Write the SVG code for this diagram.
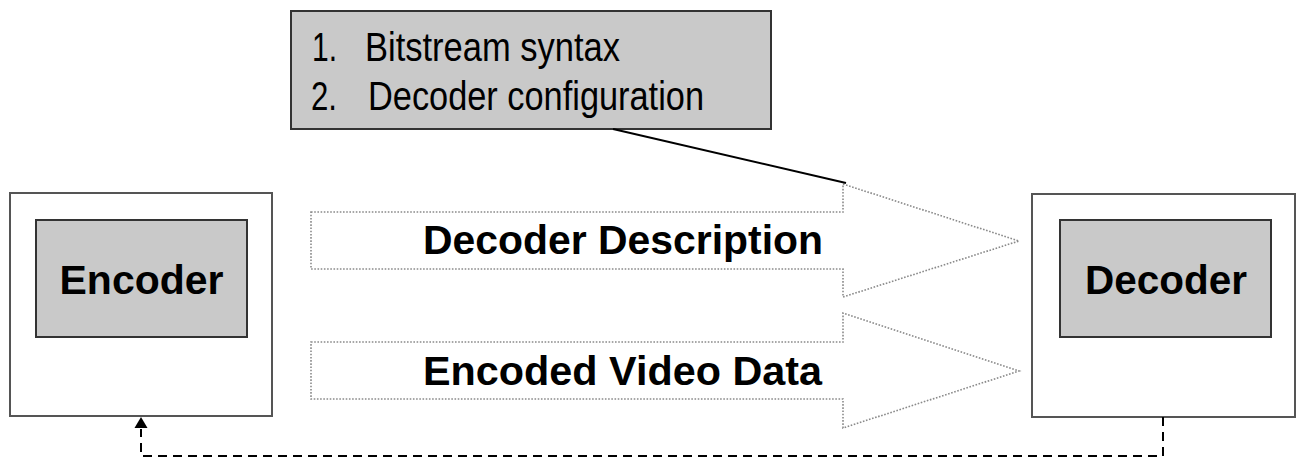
<svg xmlns="http://www.w3.org/2000/svg" width="1301" height="459" viewBox="0 0 1301 459">
  <defs>
    <style>
      .outer { fill: #ffffff; stroke: #555555; stroke-width: 2; }
      .inner { fill: #c9c9c9; stroke: #333333; stroke-width: 2; }
      .note { fill: #c9c9c9; stroke: #333333; stroke-width: 2; }
      .lbl { font-family: "Liberation Sans", Arial, sans-serif; font-weight: bold; font-size: 40px; fill: #000000; }
      .list { font-family: "Liberation Sans", Arial, sans-serif; font-size: 40px; fill: #000000; }
      .barrow { fill: #ffffff; stroke: #8a8a8a; stroke-width: 1.6; stroke-dasharray: 1.6 1.6; }
      .dash { fill: none; stroke: #000000; stroke-width: 2; stroke-dasharray: 9 6; }
    </style>
    <marker id="ah" markerWidth="14" markerHeight="12" refX="13" refY="6" orient="auto" markerUnits="userSpaceOnUse">
      <path d="M0,0 L13,6 L0,12 Z" fill="#000000"/>
    </marker>
  </defs>

  <g id="encoder">
    <rect class="outer" x="10" y="193" width="262" height="223"/>
    <rect class="inner" x="36" y="220" width="211" height="117"/>
    <text class="lbl" x="141.5" y="294" text-anchor="middle" textLength="164" lengthAdjust="spacingAndGlyphs">Encoder</text>
  </g>

  <g id="decoder">
    <rect class="outer" x="1032" y="194" width="263" height="223"/>
    <rect class="inner" x="1060" y="220" width="211" height="117"/>
    <text class="lbl" x="1166" y="294" text-anchor="middle" textLength="162" lengthAdjust="spacingAndGlyphs">Decoder</text>
  </g>

  <g id="note">
    <rect class="note" x="291" y="11" width="480" height="118"/>
    <text class="list" x="312" y="61" textLength="25" lengthAdjust="spacingAndGlyphs">1.</text>
    <text class="list" x="365" y="61" textLength="255" lengthAdjust="spacingAndGlyphs">Bitstream syntax</text>
    <text class="list" x="311" y="110" textLength="26" lengthAdjust="spacingAndGlyphs">2.</text>
    <text class="list" x="368" y="110" textLength="336" lengthAdjust="spacingAndGlyphs">Decoder configuration</text>
  </g>

  <g id="decoder-description">
    <path class="barrow" d="M311,212 H843 V184 L1019,241 L843,297 V269 H311 Z"/>
    <text class="lbl" x="423" y="254" textLength="400" lengthAdjust="spacingAndGlyphs">Decoder Description</text>
  </g>

  <g id="encoded-video-data">
    <path class="barrow" d="M311,342 H843 V313 L1019,371 L843,428 V399 H311 Z"/>
    <text class="lbl" x="423" y="385" textLength="399" lengthAdjust="spacingAndGlyphs">Encoded Video Data</text>
  </g>

  <g id="connectors">
    <line x1="613" y1="129" x2="846" y2="183" stroke="#000000" stroke-width="2"/>
    <path class="dash" d="M1163,417 V456 H141 V429" />
    <path d="M141,417 L134.5,428 L147.5,428 Z" fill="#000000"/>
  </g>
</svg>
